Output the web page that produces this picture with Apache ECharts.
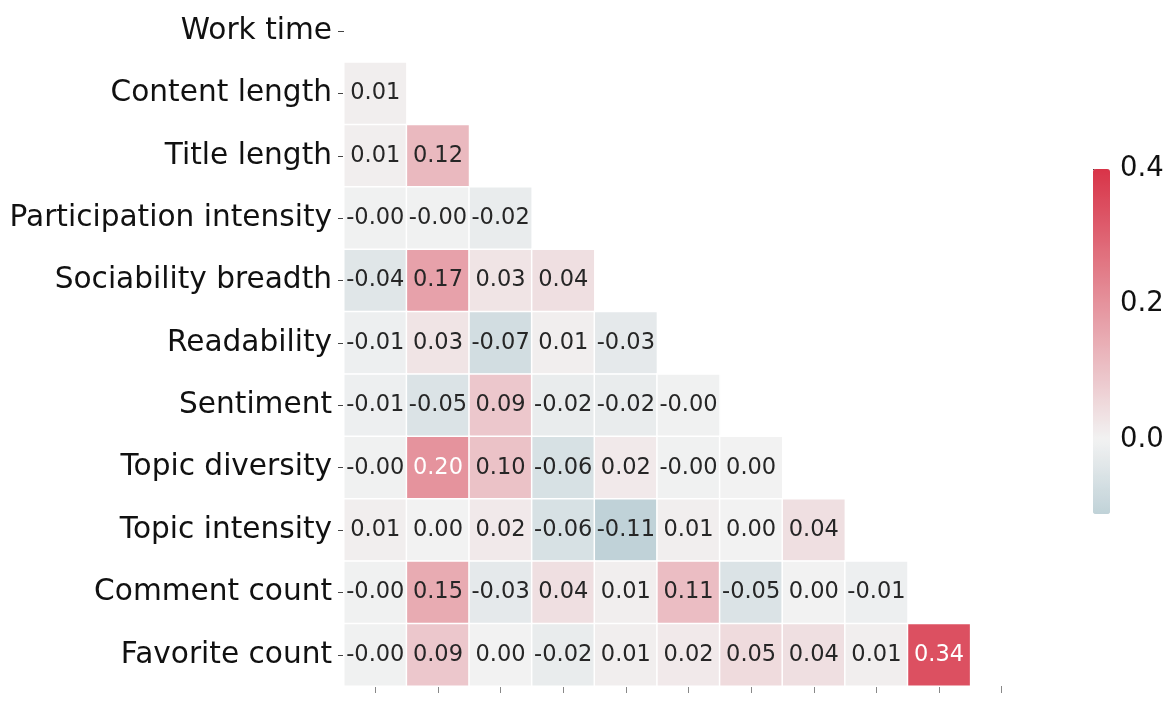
<!DOCTYPE html>
<html>
<head>
<meta charset="utf-8">
<script src="https://cdn.jsdelivr.net/npm/echarts@6/dist/echarts.min.js"></script>
<style>html,body{margin:0;padding:0;background:#fff;}#c{width:1167px;height:705px;}</style>
</head>
<body>
<div id="c"></div>
<script>
const rowLabels = ['Work time','Content length','Title length','Participation intensity','Sociability breadth','Readability','Sentiment','Topic diversity','Topic intensity','Comment count','Favorite count'];
// lower-triangle correlations (row i, columns 0..i-1); "-0.00" entries stored as tiny negatives
const row0 = [];
const row1 = [0.01];
const row2 = [0.01, 0.12];
const row3 = [-0.004, -0.004, -0.02];
const row4 = [-0.04, 0.17, 0.03, 0.04];
const row5 = [-0.01, 0.03, -0.07, 0.01, -0.03];
const row6 = [-0.01, -0.05, 0.09, -0.02, -0.02, -0.004];
const row7 = [-0.004, 0.20, 0.10, -0.06, 0.02, -0.004, 0.00];
const row8 = [0.01, 0.00, 0.02, -0.06, -0.11, 0.01, 0.00, 0.04];
const row9 = [-0.004, 0.15, -0.03, 0.04, 0.01, 0.11, -0.05, 0.00, -0.01];
const row10 = [-0.004, 0.09, 0.00, -0.02, 0.01, 0.02, 0.05, 0.04, 0.01, 0.34];
const corrRows = [row0,row1,row2,row3,row4,row5,row6,row7,row8,row9,row10];
const cbMin = -0.11, cbMax = 0.4;
const cbTicks = [0, 0.2, 0.4];

// diverging colormap centred on 0, symmetric range +-0.4
const negEnd = [60,126,148], mid = [242,242,242], posEnd = [216,52,72];
function cmap(v){
  const t = Math.max(-1, Math.min(1, v / 0.4));
  const e = t < 0 ? negEnd : posEnd, a = Math.abs(t);
  const c = mid.map((m,k)=>Math.round(m + (e[k]-m)*a));
  return 'rgb(' + c.join(',') + ')';
}
const stops = [];
for (let k=0;k<=60;k++){ stops.push(cmap(cbMin + (cbMax-cbMin)*k/60)); }

const data = [];
corrRows.forEach((r,i)=>r.forEach((v,j)=>{
  data.push({value:[j,i,v], label:{color: v >= 0.18 ? '#ffffff' : '#262626'}});
}));

const chart = echarts.init(document.getElementById('c'), null, {renderer:'canvas'});
chart.setOption({
  animation:false,
  textStyle:{fontFamily:'DejaVu Sans'},
  grid:[
    {left:344, top:-3, width:689, height:689},
    {left:1093, top:169, width:17, height:345}
  ],
  xAxis:[
    {type:'category', gridIndex:0, data:rowLabels, position:'bottom',
     axisLine:{show:false}, axisLabel:{show:false}, splitLine:{show:false},
     axisTick:{show:true, interval:0, alignWithLabel:true, length:7, lineStyle:{color:'#888', width:1}}},
    {type:'value', gridIndex:1, show:false, min:0, max:1}
  ],
  yAxis:[
    {type:'category', gridIndex:0, data:rowLabels, inverse:true,
     axisLine:{show:false}, splitLine:{show:false},
     axisTick:{show:true, interval:0, alignWithLabel:true, length:6, lineStyle:{color:'#444', width:1}},
     axisLabel:{fontSize:29.6, color:'#111', margin:12, interval:0}},
    {type:'value', gridIndex:1, position:'right', min:cbMin, max:cbMax,
     axisLine:{show:false}, splitLine:{show:false},
     axisTick:{show:true, length:5, customValues:cbTicks, lineStyle:{color:'#333'}},
     axisLabel:{customValues:cbTicks, fontSize:27.5, color:'#111', margin:10, formatter:v=>v.toFixed(1)}}
  ],
  visualMap:{
    type:'continuous', min:cbMin, max:cbMax, dimension:2, seriesIndex:0,
    calculable:false, showLabel:false, text:['',''], padding:0,
    left:1093, top:169, itemWidth:17, itemHeight:345,
    inRange:{color:stops}
  },
  series:[
    {type:'heatmap', xAxisIndex:0, yAxisIndex:0, data:data,
     itemStyle:{borderColor:'#ffffff', borderWidth:1.5},
     label:{show:true, fontSize:22.5, formatter:p=>p.value[2].toFixed(2)},
     emphasis:{disabled:true}},
    {type:'scatter', xAxisIndex:1, yAxisIndex:1, data:[], silent:true}
  ]
});
</script>
</body>
</html>
